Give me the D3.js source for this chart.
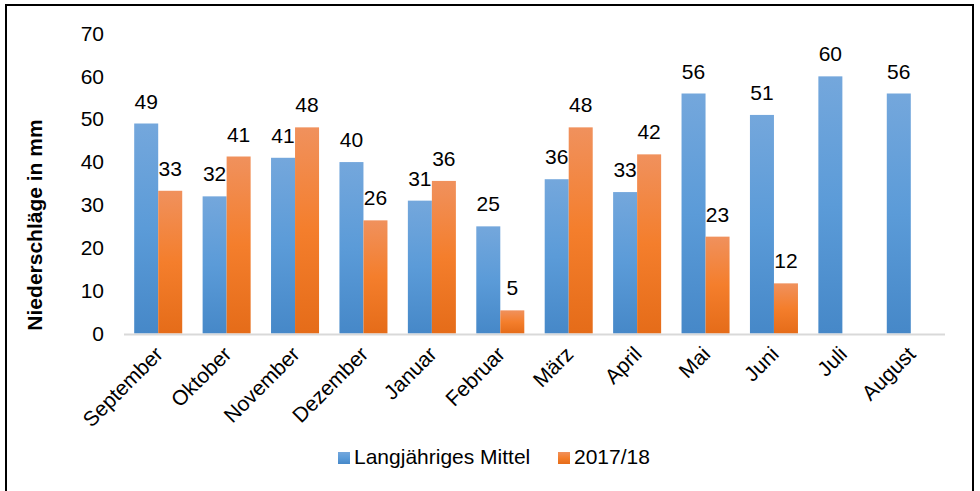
<!DOCTYPE html>
<html>
<head>
<meta charset="utf-8">
<script src="https://cdn.jsdelivr.net/npm/d3@7"></script>
<style>
html,body{margin:0;padding:0;background:#fff;}
svg{display:block;font-family:"Liberation Sans",Arial,sans-serif;}
</style>
</head>
<body>
<svg id="chart" width="980" height="491"></svg>
<script>
const months = ["September","Oktober","November","Dezember","Januar","Februar","März","April","Mai","Juni","Juli","August"];
const mittel = [49,32,41,40,31,25,36,33,56,51,60,56];
const saison = [33.3,41.3,48.1,26.4,35.6,5.4,48.1,41.8,22.6,11.7,null,null];
const yTicks = [0,10,20,30,40,50,60,70];
const seriesNames = ["Langjähriges Mittel","2017/18"];

const svg = d3.select("#chart");
const W = 980, H = 491;
const m = {left:124, right:945, top:33.5, bottom:333.5};
const FS = 21;

// frame
svg.append("rect").attr("x",6).attr("y",5).attr("width",967).attr("height",500)
  .attr("fill","none").attr("stroke","#000").attr("stroke-width",2);

const defs = svg.append("defs");
function grad(id, stops){
  const g = defs.append("linearGradient").attr("id",id).attr("x1",0).attr("y1",0).attr("x2",0).attr("y2",1);
  stops.forEach(s=>g.append("stop").attr("offset",s[0]).attr("stop-color",s[1]));
}
grad("gBlue",[[0,"#74a7dc"],[0.5,"#5b9bd8"],[1,"#4688c8"]]);
grad("gOrange",[[0,"#f0915d"],[0.5,"#f47e2c"],[1,"#e56c19"]]);

const x0 = d3.scaleBand().domain(months).range([m.left,m.right]).paddingInner(0.2982).paddingOuter(0.1491);
const x1 = d3.scaleBand().domain([0,1]).range([0,x0.bandwidth()]);
const y = d3.scaleLinear().domain([0,70]).range([m.bottom,m.top]);

// y tick labels
const yAxis = d3.axisLeft(y).tickValues(yTicks).tickSize(0).tickPadding(0);
const ya = svg.append("g").attr("transform",`translate(104,0)`).call(yAxis);
ya.select(".domain").remove();
ya.selectAll("text").attr("font-size",FS).attr("fill","#000").attr("font-family","Liberation Sans, Arial, sans-serif");

// bars
const data = [];
months.forEach((mo,i)=>{
  data.push({mo, s:0, v:mittel[i]});
  if(saison[i]!=null) data.push({mo, s:1, v:saison[i]});
});
svg.append("g").selectAll("rect").data(data).join("rect")
  .attr("x",d=>x0(d.mo)+x1(d.s))
  .attr("y",d=>y(d.v))
  .attr("width",x1.bandwidth())
  .attr("height",d=>y(0)-y(d.v))
  .attr("fill",d=>d.s===0?"url(#gBlue)":"url(#gOrange)");

// axis line
svg.append("line").attr("x1",m.left).attr("x2",m.right).attr("y1",y(0)+1).attr("y2",y(0)+1)
  .attr("stroke","#d9d9d9").attr("stroke-width",2);

// data labels
svg.append("g").selectAll("text").data(data).join("text")
  .attr("x",d=>x0(d.mo)+x1(d.s)+x1.bandwidth()/2)
  .attr("y",d=>y(d.v)-15)
  .attr("text-anchor","middle")
  .attr("font-size",FS).attr("fill","#000")
  .text(d=>Math.round(d.v));

// category labels
const xa = svg.append("g").attr("transform",`translate(0,${m.bottom})`)
  .call(d3.axisBottom(x0).tickSize(0).tickPadding(0));
xa.select(".domain").remove();
xa.selectAll("text")
  .attr("font-size",FS).attr("fill","#000").attr("font-family","Liberation Sans, Arial, sans-serif")
  .attr("text-anchor","end")
  .attr("dy","0")
  .attr("transform","translate(6,22) rotate(-45)");

// y title
svg.append("text").attr("transform","translate(42,225) rotate(-90)")
  .attr("text-anchor","middle").attr("font-weight","bold").attr("font-size",FS)
  .text("Niederschläge in mm");

// legend
const leg = svg.append("g");
const legX = [338,558];
seriesNames.forEach((n,i)=>{
  leg.append("rect").attr("x",legX[i]).attr("y",452).attr("width",12).attr("height",12)
    .attr("fill",i===0?"url(#gBlue)":"url(#gOrange)");
  leg.append("text").attr("x",legX[i]+16).attr("y",464).attr("font-size",FS).text(n);
});
</script>
</body>
</html>
